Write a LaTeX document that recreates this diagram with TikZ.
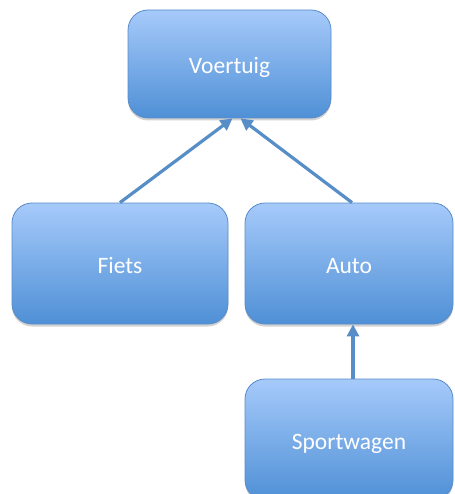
\documentclass[tikz,border=0pt]{standalone}
\usepackage{fontspec}
\setmainfont{Carlito}
\usetikzlibrary{arrows.meta,shadows}
\definecolor{boxtop}{RGB}{166,202,250}
\definecolor{boxbottom}{RGB}{79,144,214}
\definecolor{boxline}{RGB}{88,140,200}
\definecolor{arrowcolor}{RGB}{88,142,200}

\begin{document}
\begin{tikzpicture}[
    x=1pt, y=-1pt,
    box/.style={rectangle, draw=boxline, line width=0.8pt, rounded corners=20pt, top color=boxtop, bottom color=boxbottom, minimum height=121pt, inner sep=0pt, text height=20pt, text depth=0pt, text=white, font=\fontsize{23.5}{28}\selectfont, drop shadow={shadow xshift=0pt, shadow yshift=-2.5pt, opacity=0.35}},
    arrow/.style={->, >={Triangle[length=12pt, width=12pt]}, draw=arrowcolor, line width=3.2pt}
]

% Frame
\clip (0, 0) rectangle (454, 494);
\fill[white] (0, 0) rectangle (454, 494);

% Base class
\node[box, minimum width=203pt, minimum height=108pt] (voertuig) at (229.5, 64) {Voertuig};

% Sub classes
\node[box, minimum width=216pt] (fiets) at (120, 263.5) {Fiets};
\node[box, minimum width=208pt] (auto) at (349, 263.5) {Auto};

% Sub sub class
\node[box, minimum width=208pt] (sportwagen) at (349, 439.5) {Sportwagen};

% Arrows
\draw[arrow] (fiets.north) -- ([xshift=3pt]voertuig.south);
\draw[arrow] ([xshift=3pt]auto.north) -- ([xshift=11pt]voertuig.south);
\draw[arrow] ([xshift=4pt]auto.north |- sportwagen.north) -- ([xshift=4pt]auto.south);

\end{tikzpicture}
\end{document}
